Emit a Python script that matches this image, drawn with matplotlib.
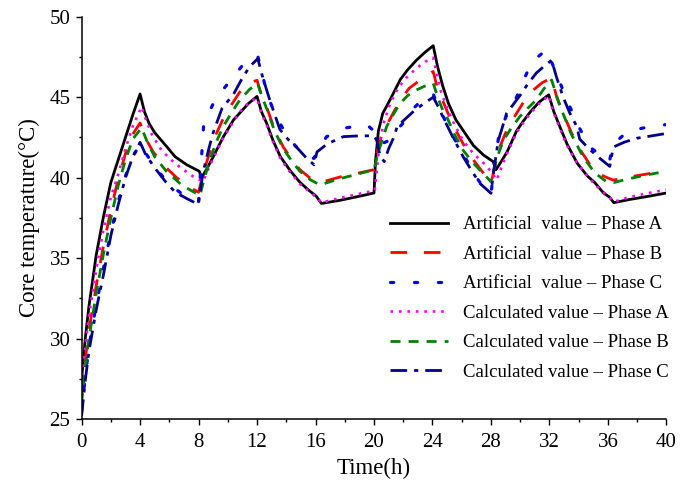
import matplotlib
matplotlib.use("Agg")
import matplotlib.pyplot as plt
from matplotlib.ticker import MultipleLocator

plt.rcParams["font.family"] = ["Liberation Serif", "DejaVu Serif"]

# Artificial value, phase A
t_art_a = [0, 0.25, 0.5, 1.0, 1.5, 2.0, 2.5, 3.0, 3.5, 4.0,
           4.3, 4.6, 5.0, 5.85, 6.4, 7.2, 8.05, 8.2,
           8.6, 9.0, 9.7, 10.4, 10.8, 11.4, 12.0,
           12.3, 12.65, 13.1, 13.6, 14.3, 14.95, 15.5, 16.05, 16.4,
           17.7, 19.0, 20.0,
           20.1, 20.3, 20.6, 20.9, 21.3, 21.8, 22.3, 22.9, 23.5, 24.05,
           24.35, 24.7, 25.1, 25.6, 26.2, 26.8, 27.5, 28.15, 28.35,
           28.7, 29.1, 29.75, 30.2, 30.7, 31.3, 31.95,
           32.3, 32.7, 33.2, 33.9, 34.6, 35.1, 35.7, 36.1, 36.4,
           37.5, 38.8, 40.0]
art_a = [27.5, 30.0, 32.0, 35.2, 37.6, 39.7, 41.1, 42.5, 43.9, 45.2,
         44.1, 43.4, 42.8, 41.9, 41.3, 40.8, 40.4, 40.0,
         40.6, 41.3, 42.55, 43.6, 44.0, 44.6, 45.05,
         44.1, 43.4, 42.3, 41.3, 40.4, 39.7, 39.25, 38.85, 38.4,
         38.6, 38.85, 39.05,
         41.0, 42.9, 44.0, 44.5, 45.2, 46.1, 46.7, 47.3, 47.8, 48.2,
         46.9, 45.7, 44.6, 43.6, 42.8, 42.0, 41.4, 41.0, 40.5,
         41.0, 41.6, 42.9, 43.5, 44.1, 44.7, 45.15,
         44.1, 43.2, 42.1, 40.9, 40.1, 39.7, 39.05, 38.8, 38.45,
         38.65, 38.85, 39.05]

# Artificial value, phase B
t_art_b = [0, 0.25, 0.5, 1.0, 1.5, 2.0, 2.5, 3.0, 3.5, 4.0,
           4.4, 4.9, 5.7, 6.5, 7.3, 8.0,
           8.3, 8.7, 9.2, 9.7, 10.3, 10.8, 11.5, 12.0,
           12.3, 12.65, 13.2, 13.8, 14.4, 14.93, 15.6, 16.3,
           17.7, 19.0, 20.0,
           20.2, 20.5, 20.9, 21.3, 21.8, 22.4, 23.2, 24.05,
           24.3, 24.6, 24.97, 25.5, 26.1, 26.8, 27.47, 28.0,
           28.3, 28.6, 29.1, 29.75, 30.3, 30.9, 31.5, 32.15,
           32.5, 32.94, 33.5, 34.2, 35.0, 35.7, 36.36,
           37.5, 38.8, 40.0]
art_b = [26.5, 28.7, 30.5, 33.3, 35.8, 38.0, 39.9, 41.5, 42.7, 43.4,
         42.4, 41.6, 40.7, 40.0, 39.45, 39.1,
         40.2, 41.4, 42.7, 43.7, 44.6, 45.3, 45.9, 46.05,
         45.1, 44.4, 43.0, 41.9, 41.1, 40.5, 40.0, 39.7,
         40.05, 40.3, 40.5,
         41.6, 42.55, 43.3, 44.0, 44.8, 45.55, 46.1, 46.6,
         45.7, 45.0, 44.2, 43.1, 42.1, 41.1, 40.3, 39.65,
         40.8, 41.9, 43.0, 44.0, 44.8, 45.45, 45.9, 46.2,
         45.0, 44.0, 42.8, 41.6, 40.5, 40.1, 39.85,
         40.05, 40.25, 40.4]

# Artificial value, phase C
t_art_c = [0, 0.25, 0.5, 1.0, 1.5, 2.0, 2.5, 3.0, 3.5, 4.0,
           4.4, 5.0, 5.7, 6.4, 7.2, 8.0,
           8.15, 8.35, 9.0, 9.7, 10.5, 11.2, 12.05,
           12.35, 12.65, 13.2, 13.8, 14.6, 15.4, 15.9,
           16.2, 16.76, 18.1, 19.5, 20.0,
           20.5, 21.0, 21.5, 22.1, 22.8, 23.6, 24.05,
           24.4, 24.9, 25.5, 26.1, 26.8, 27.4, 28.0,
           28.3, 28.6, 29.2, 29.75, 30.2, 30.66, 31.2, 31.8,
           32.37, 32.9, 33.4, 34.1, 34.77, 35.5, 36.1,
           36.36, 37.4, 38.75, 40.0]
art_c = [25.5, 27.6, 29.5, 32.1, 34.4, 36.6, 38.5, 40.1, 41.3, 42.1,
         41.5, 40.7, 39.9, 39.3, 38.8, 38.5,
         40.5, 43.3, 44.6, 45.5, 46.4, 47.2, 47.55,
         46.5, 45.3, 44.0, 43.0, 42.0, 41.3, 41.2,
         41.8, 42.55, 43.1, 43.3, 42.9,
         42.1, 42.3, 42.9, 43.5, 44.4, 45.1, 45.2,
         44.4, 43.5, 42.4, 41.5, 40.3, 39.5, 39.0,
         41.2, 42.96, 44.1, 45.0, 46.0, 46.9, 47.5, 47.95,
         46.7, 45.5, 44.4, 43.0, 41.9, 41.4, 41.0,
         42.1, 42.9, 43.15, 43.3]

# Calculated value, phase A
t_calc_a = [0, 0.25, 0.5, 1.0, 1.5, 2.0, 2.5, 3.0, 3.5, 4.1,
            4.4, 4.8, 5.4, 6.0, 6.8, 7.6, 8.3,
            8.6, 9.0, 9.7, 10.4, 11.0, 11.5, 12.0,
            12.3, 12.65, 13.1, 13.6, 14.3, 14.95, 15.5, 16.05, 16.4,
            17.7, 19.0, 20.05,
            20.4, 20.7, 21.1, 21.6, 22.2, 22.9, 23.5, 24.05,
            24.3, 24.6, 24.97, 25.5, 26.1, 26.8, 27.5, 28.0, 28.4,
            28.7, 29.1, 29.75, 30.2, 30.7, 31.3, 31.95,
            32.3, 32.7, 33.2, 33.9, 34.6, 35.1, 35.7, 36.1, 36.4,
            37.5, 38.8, 40.0]
calc_a = [27.2, 29.5, 31.4, 34.3, 36.8, 38.8, 40.2, 41.8, 43.2, 44.4,
          43.6, 42.7, 41.8, 41.2, 40.6, 40.1, 39.75,
          40.4, 41.2, 42.5, 43.5, 44.3, 44.7, 44.95,
          44.0, 43.3, 42.2, 41.2, 40.3, 39.6, 39.2, 38.8, 38.45,
          38.75, 39.0, 39.2,
          42.3, 43.5, 44.6, 45.5, 46.2, 46.8, 47.2, 47.45,
          46.4, 45.3, 44.4, 43.3, 42.3, 41.5, 40.9, 40.4, 39.85,
          40.6, 41.5, 42.8, 43.4, 44.0, 44.6, 45.1,
          44.0, 43.1, 42.0, 40.9, 40.1, 39.6, 39.1, 38.8, 38.5,
          38.8, 39.05, 39.25]

# Calculated value, phase B
t_calc_b = [0, 0.25, 0.5, 1.0, 1.5, 2.0, 2.5, 3.0, 3.5, 4.1,
            4.5, 5.0, 5.8, 6.84, 7.5, 8.1,
            8.35, 8.7, 9.2, 9.7, 10.3, 10.8, 11.5, 12.05,
            12.35, 12.7, 13.2, 13.8, 14.4, 14.93, 15.6, 16.3,
            17.7, 19.0, 20.0,
            20.3, 20.86, 21.3, 21.77, 22.3, 22.9, 23.5, 24.05,
            24.4, 24.7, 24.97, 25.5, 26.1, 26.8, 27.47, 28.0,
            28.4, 28.84, 29.4, 29.98, 30.5, 31.1, 31.6, 32.15,
            32.45, 32.7, 33.5, 34.3, 35.1, 35.9, 36.4,
            37.5, 38.8, 40.0]
calc_b = [26.0, 28.2, 30.0, 32.8, 35.3, 37.5, 39.5, 41.1, 42.4, 43.1,
          42.2, 41.3, 40.4, 39.55, 39.2, 38.9,
          39.8, 40.9, 42.2, 43.2, 44.1, 44.8, 45.5, 45.85,
          45.0, 44.2, 42.9, 41.8, 41.0, 40.4, 39.9, 39.55,
          39.95, 40.25, 40.5,
          41.6, 43.17, 43.9, 44.6, 45.1, 45.45, 45.7, 45.86,
          44.9, 44.2, 43.8, 42.7, 41.7, 40.9, 40.27, 39.75,
          41.2, 42.3, 43.1, 43.8, 44.3, 44.83, 45.5, 46.07,
          45.2, 44.5, 42.7, 41.3, 40.3, 39.75, 39.7,
          39.95, 40.2, 40.4]

# Calculated value, phase C
t_calc_c = [0, 0.25, 0.5, 1.0, 1.5, 2.0, 2.5, 3.0, 3.5, 4.0,
            4.4, 5.1, 5.7, 6.4, 7.2, 7.98,
            8.3, 8.7, 9.0, 9.6, 10.4, 11.0, 11.5, 12.05,
            12.4, 12.88, 13.56, 14.1, 14.7, 15.3, 15.9,
            16.1, 16.8, 17.9, 19.0, 20.0,
            20.2, 20.4, 20.7, 21.0, 21.3, 21.6, 22.2, 22.8, 23.4, 24.05,
            24.4, 24.7, 25.4, 26.1, 26.7, 27.24, 28.0,
            28.2, 28.5, 29.07, 29.98, 30.5, 31.1, 31.6, 32.15,
            32.5, 32.94, 33.4, 33.86, 34.07, 34.7, 35.45, 36.13,
            36.36, 37.1, 37.96, 39.0, 40.0]
calc_c = [25.2, 27.4, 29.2, 31.8, 34.0, 36.4, 38.3, 40.0, 41.3, 42.2,
          41.4, 40.5, 39.8, 39.1, 38.7, 38.35,
          40.3, 41.8, 42.8, 44.3, 45.2, 46.2, 46.9, 47.4,
          46.2, 44.8, 43.0, 42.4, 41.9, 41.3, 40.8,
          41.6, 42.1, 42.55, 42.6, 42.6,
          42.3, 41.4, 41.0, 41.8, 42.4, 43.2, 43.7, 44.2, 44.6, 45.0,
          44.4, 43.8, 42.5, 41.3, 40.4, 39.65, 39.03,
          40.5, 42.3, 44.0, 45.1, 45.8, 46.5, 46.9, 47.3,
          46.2, 45.0, 44.0, 43.2, 42.4, 41.8, 41.2, 40.7,
          41.9, 42.2, 42.45, 42.6, 42.75]

labels = ["Artificial  value \u2013 Phase A", "Artificial  value \u2013 Phase B",
          "Artificial  value \u2013 Phase C", "Calculated value \u2013 Phase A",
          "Calculated value \u2013 Phase B", "Calculated value \u2013 Phase C"]

fig = plt.figure(figsize=(6.8, 4.92), dpi=100)
ax = fig.add_axes([0.120, 0.148, 0.860, 0.818])

ax.plot(t_art_a, art_a, color="black", lw=2.0, ls="-", label=labels[0])
ax.plot(t_art_b, art_b, color="#ff0000", lw=2.0, ls=(0, (6, 6)), label=labels[1])
ax.plot(t_art_c, art_c, color="#0000ff", lw=2.3, ls=(0, (1, 6.5)),
        dash_capstyle="round", label=labels[2])
ax.plot(t_calc_a, calc_a, color="#ff00ff", lw=1.9, ls=(0, (1, 2.2)), label=labels[3])
ax.plot(t_calc_b, calc_b, color="#008000", lw=2.0, ls=(0, (3.6, 2.9)), label=labels[4])
ax.plot(t_calc_c, calc_c, color="#00008b", lw=2.0, ls=(0, (6, 2.5, 1.5, 2.5)), label=labels[5])

ax.set_xlim(0, 40)
ax.set_ylim(25, 50)
ax.xaxis.set_major_locator(MultipleLocator(4))
ax.xaxis.set_minor_locator(MultipleLocator(2))
ax.yaxis.set_major_locator(MultipleLocator(5))
ax.yaxis.set_minor_locator(MultipleLocator(2.5))
ax.tick_params(which="major", direction="out", length=4, width=1, labelsize=15, pad=4)
ax.tick_params(axis="x", which="major", pad=6)
ax.tick_params(which="minor", direction="out", length=2.5, width=1)

for side in ("top", "right"):
    ax.spines[side].set_visible(False)
for side in ("left", "bottom"):
    ax.spines[side].set_linewidth(1.1)

ax.set_xlabel("Time(h)", fontsize=16.5, labelpad=4)
ax.set_ylabel("Core temperature(\u00b0C)", fontsize=16.5, labelpad=7)

ax.legend(loc="upper left", bbox_to_anchor=(0.528, 0.505), frameon=False,
          fontsize=13.5, handlelength=3.1, handletextpad=0.75,
          labelspacing=0.66, borderaxespad=0, borderpad=0)

fig.savefig("out.png", dpi=100)
